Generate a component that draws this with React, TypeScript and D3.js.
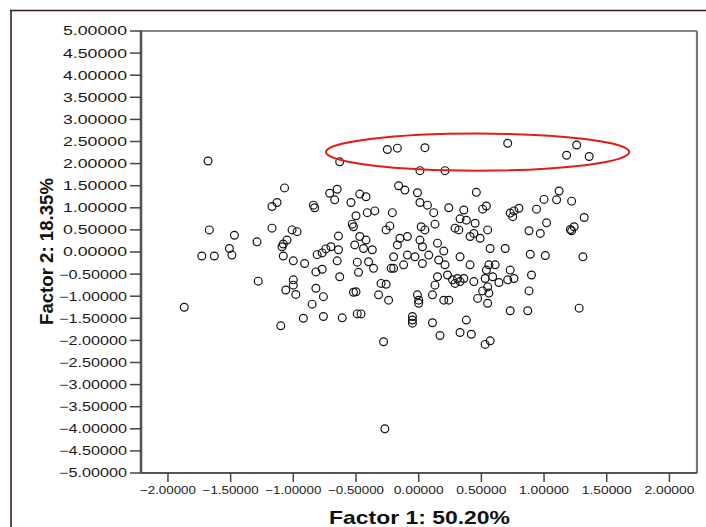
import React from "react";
import * as d3 from "d3";

// factor scores (Factor 1 = x, Factor 2 = y)
const factor1 = [
  -1.68, -0.63, -0.25, -0.17, 0.05, 0.71, 1.26, 1.18, 1.36, 0.01, 0.21,
  -1.07, -0.71, -0.65, -0.67, -0.54, -0.47, -0.42, -0.16, -0.11, -0.01,
  -1.13, -1.17, -0.84, -0.83, -0.5, -0.41, -0.35, -0.21,
  0.01, 0.07, 0.12, 0.24, 0.36, 0.51, 0.54, 0.46,
  0.73, 0.76, 0.8, 0.94, 1.0, 1.12, 1.1, 1.22, 1.32, 1.02, 0.13,
  -1.67, -1.47, -1.29, -1.17, -1.01, -0.97, -1.05, -1.09, -1.08,
  -0.64, -0.53, -0.52, -0.47, -0.51, -0.81, -0.77, -0.74, -0.7, -0.64,
  -1.51, -1.49, -1.73, -1.63, -1.08, -1.0, -0.91, -0.65, -0.49,
  -0.82, -0.77, -0.48, -1.28, -1.0, -1.0, -1.06, -0.98, -0.82, -0.76, -0.63, -0.52, -0.5,
  -1.87, -0.85, -0.92, -0.76, -0.61, -0.49, -0.46, -1.1,
  -0.05, -0.05, -0.05, -0.28, -0.27,
  -0.26, -0.23, 0.02, 0.05, 0.29, 0.33, 0.38, 0.45, 0.44, 0.55, 0.41, 0.49, 0.75, 0.32,
  -0.42, -0.44, -0.37, -0.15, -0.09, -0.17, 0.01, 0.03, 0.15, 0.2, 0.57, 0.69,
  -0.2, -0.09, -0.03, 0.08, 0.16, 0.21, 0.33, 0.41,
  -0.4, -0.36, -0.22, -0.2, -0.12, 0.56, 0.61, 0.54, 0.73, 0.03,
  0.15, 0.23, 0.27, 0.31, 0.33, 0.29, 0.36, 0.44, 0.13, 0.53, 0.59, 0.55, 0.51, 0.56, 0.71, 0.76, 0.64,
  -0.3, -0.26, -0.32, -0.24, -0.01, 0.0, 0.0, 0.11, 0.2, 0.24, 0.47, 0.55,
  0.89, 1.01, 1.31, 0.9, 0.88, 0.87, 0.73, 1.28, 0.11, 0.38, 0.17, 0.33, 0.42, 0.53, 0.57,
  0.88, 0.97, 1.21, 1.24, 1.22,
];

const factor2 = [
  2.06, 2.04, 2.32, 2.35, 2.36, 2.46, 2.42, 2.19, 2.16, 1.84, 1.84,
  1.45, 1.33, 1.42, 1.18, 1.12, 1.31, 1.25, 1.5, 1.4, 1.34,
  1.12, 1.03, 1.06, 1.0, 0.82, 0.89, 0.93, 0.89,
  1.12, 1.06, 0.89, 1.0, 0.95, 0.97, 1.04, 1.35,
  0.88, 0.93, 0.99, 0.97, 1.19, 1.38, 1.18, 1.15, 0.78, 0.66, 0.63,
  0.5, 0.38, 0.23, 0.54, 0.5, 0.46, 0.27, 0.12, 0.18,
  0.36, 0.63, 0.57, 0.35, 0.16, -0.06, -0.02, 0.07, 0.12, 0.05,
  0.08, -0.07, -0.09, -0.09, -0.09, -0.2, -0.26, -0.2, -0.23,
  -0.45, -0.39, -0.46, -0.66, -0.63, -0.75, -0.86, -0.96, -0.82, -1.01, -0.56, -0.91, -0.9,
  -1.25, -1.18, -1.5, -1.46, -1.49, -1.4, -1.4, -1.67,
  -1.46, -1.54, -1.61, -2.03, -4.0,
  0.5, 0.59, 0.57, 0.5, 0.54, 0.75, 0.72, 0.65, 0.42, 0.5, 0.35, 0.31, 0.8, 0.5,
  0.27, 0.08, 0.05, 0.31, 0.35, 0.16, 0.27, 0.12, 0.2, 0.02, 0.08, 0.08,
  -0.11, -0.07, -0.11, -0.07, -0.18, -0.29, -0.11, -0.29,
  -0.22, -0.37, -0.37, -0.37, -0.29, -0.29, -0.29, -0.41, -0.41, -0.26,
  -0.56, -0.52, -0.63, -0.6, -0.67, -0.71, -0.6, -0.67, -0.75, -0.6, -0.56, -0.79, -0.88, -0.93, -0.63, -0.6, -0.69,
  -0.71, -0.73, -0.97, -1.09, -0.97, -1.09, -1.16, -0.97, -1.09, -1.09, -1.05, -1.16,
  -0.05, -0.08, -0.11, -0.52, -0.88, -1.33, -1.33, -1.27, -1.6, -1.54, -1.89, -1.82, -1.86, -2.09, -2.01,
  0.48, 0.42, 0.51, 0.57, 0.48,
];

const xTicks = [-2, -1.5, -1, -0.5, 0, 0.5, 1, 1.5, 2];
const yTicks = [5, 4.5, 4, 3.5, 3, 2.5, 2, 1.5, 1, 0.5, 0, -0.5, -1, -1.5, -2, -2.5, -3, -3.5, -4, -4.5, -5];

// red ellipse drawn around the top group (centre, radii in data units)
const highlightCenter = [0.47, 2.26];
const highlightRadius = [1.21, 0.42];

const width = 706;
const height = 527;
const plotLeft = 141;
const plotRight = 697;
const plotTop = 31;
const plotBottom = 473;

const x = d3.scaleLinear().domain([-2.215, 2.22]).range([plotLeft, plotRight]);
const y = d3.scaleLinear().domain([-5, 5]).range([plotBottom, plotTop]);

const fmt = d3.format(".5f");
const font = "'Liberation Sans', Arial, sans-serif";

export default function App() {
  const points = factor1.map((v, i) => [v, factor2[i]]);
  const ex = x(highlightCenter[0]);
  const ey = y(highlightCenter[1]);
  const erx = x(highlightCenter[0] + highlightRadius[0]) - ex;
  const ery = ey - y(highlightCenter[1] + highlightRadius[1]);

  return (
    <svg
      width={width}
      height={height}
      style={{ position: "absolute", left: 0, top: 0, background: "#fff" }}
      fontFamily={font}
    >
      {/* outer frame */}
      <line x1={10} x2={width} y1={10.5} y2={10.5} stroke="#3a1a1a" strokeWidth={1.6} />
      <line x1={11} x2={11} y1={10} y2={height} stroke="#3a1a1a" strokeWidth={1.6} />

      {/* plot frame */}
      <line x1={plotLeft} x2={plotRight} y1={plotTop} y2={plotTop} stroke="#888" strokeWidth={2} />
      <line x1={plotRight} x2={plotRight} y1={plotTop} y2={plotBottom} stroke="#777" strokeWidth={2.2} />
      <line x1={plotLeft} x2={plotRight} y1={plotBottom} y2={plotBottom} stroke="#555" strokeWidth={2.2} />
      <line x1={plotLeft} x2={plotLeft} y1={plotTop} y2={plotBottom} stroke="#555" strokeWidth={2.6} />

      {/* y axis */}
      {yTicks.map((t) => (
        <g key={"y" + t}>
          <line x1={plotLeft - 11} x2={plotLeft} y1={y(t)} y2={y(t)} stroke="#444" strokeWidth={1.5} />
          <text
            x={127}
            y={y(t) + 4.4}
            textAnchor="end"
            fontSize={12}
            fill="#1a1a1a"
            textLength={t < 0 ? 68 : 64}
            lengthAdjust="spacingAndGlyphs"
          >
            {fmt(t)}
          </text>
        </g>
      ))}

      {/* x axis */}
      {xTicks.map((t) => (
        <g key={"x" + t}>
          <line x1={x(t)} x2={x(t)} y1={plotBottom} y2={plotBottom + 9} stroke="#444" strokeWidth={1.5} />
          <text
            x={x(t)}
            y={494}
            textAnchor="middle"
            fontSize={11}
            fill="#1a1a1a"
            textLength={t < 0 ? 56 : 50}
            lengthAdjust="spacingAndGlyphs"
          >
            {fmt(t)}
          </text>
        </g>
      ))}

      {/* points */}
      {points.map(([a, b], i) => (
        <circle key={i} cx={x(a)} cy={y(b)} r={3.9} fill="none" stroke="#111" strokeWidth={1.2} />
      ))}

      {/* highlight ellipse */}
      <ellipse cx={ex} cy={ey} rx={erx} ry={ery} fill="none" stroke="#e31b1b" strokeWidth={2} />

      {/* titles */}
      <text
        x={419.5}
        y={524}
        textAnchor="middle"
        fontSize={19}
        fontWeight="bold"
        fill="#111"
        textLength={181}
        lengthAdjust="spacingAndGlyphs"
      >
        Factor 1: 50.20%
      </text>
      <text
        transform="translate(53,251.5) rotate(-90)"
        textAnchor="middle"
        fontSize={18}
        fontWeight="bold"
        fill="#111"
        textLength={147}
        lengthAdjust="spacingAndGlyphs"
      >
        Factor 2: 18.35%
      </text>
    </svg>
  );
}
